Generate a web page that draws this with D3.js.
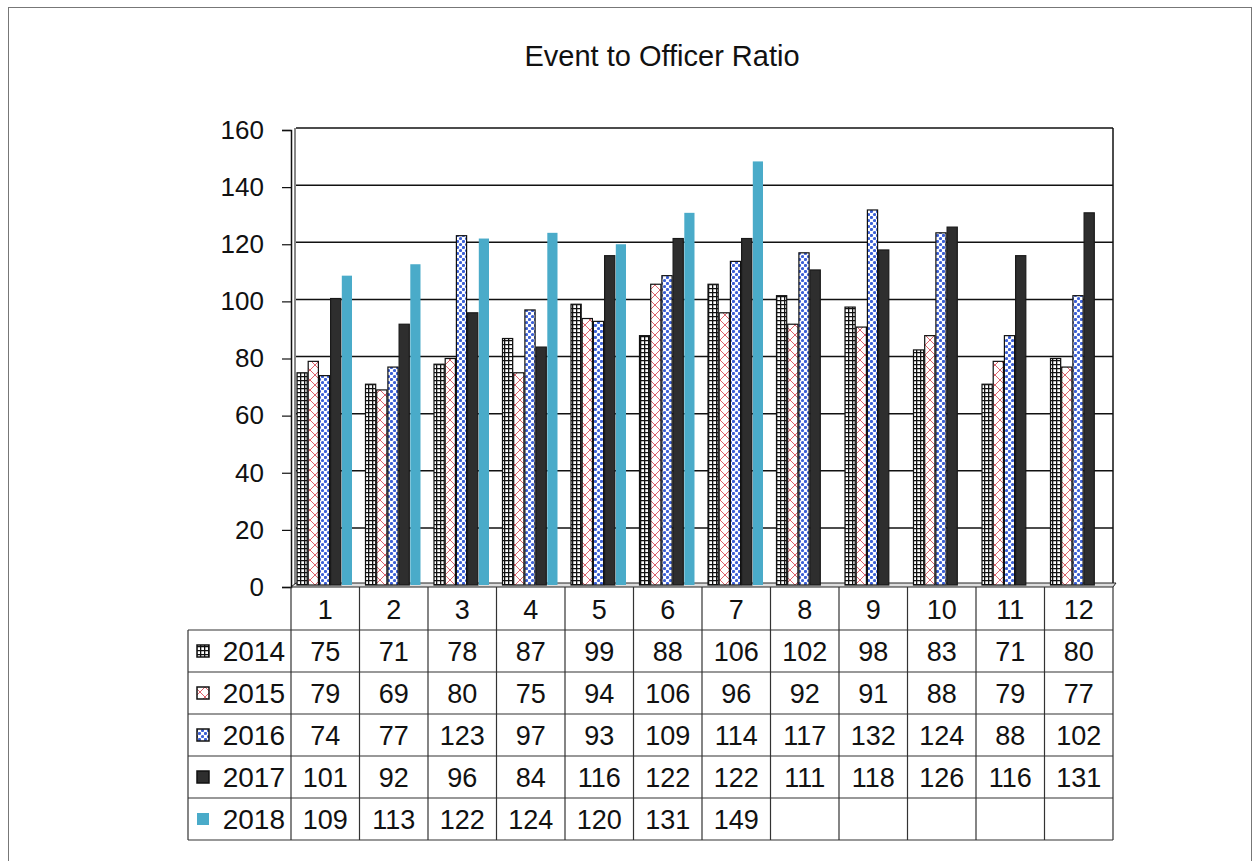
<!DOCTYPE html>
<html>
<head>
  <title>Event to Officer Ratio</title>
  <meta charset="utf8">
  <style type="text/css">
    body { margin: 0; background: #fff; font-family: "Liberation Sans", Arial, sans-serif; }
    text { fill: #111; }
  </style>
</head>
<body>

<script src="https://d3js.org/d3.v7.min.js"></script>

<script type="text/javascript">

var width = 1258, height = 861;

var months = ['1', '2', '3', '4', '5', '6', '7', '8', '9', '10', '11', '12'];
var years = ['2014', '2015', '2016', '2017', '2018'];
var v2014 = [75, 71, 78, 87, 99, 88, 106, 102, 98, 83, 71, 80];
var v2015 = [79, 69, 80, 75, 94, 106, 96, 92, 91, 88, 79, 77];
var v2016 = [74, 77, 123, 97, 93, 109, 114, 117, 132, 124, 88, 102];
var v2017 = [101, 92, 96, 84, 116, 122, 122, 111, 118, 126, 116, 131];
var v2018 = [109, 113, 122, 124, 120, 131, 149];
var yTicks = [0, 20, 40, 60, 80, 100, 120, 140, 160];

var values = [v2014, v2015, v2016, v2017, v2018];
var fills = ['url(#p2014)', 'url(#p2015)', 'url(#p2016)', '#2e2e2e', '#4aabc9'];
var strokes = ['#111', '#111', '#111', '#1a1a1a', 'none'];

var plotLeft = 291, plotRight = 1113, plotTop = 130, plotBottom = 587;
var rowH = 42, tableTop = 588, headW = 103;

var svg = d3.select('body').append('svg')
  .attr('width', width)
  .attr('height', height);

// patterns
var defs = svg.append('defs');
var p1 = defs.append('pattern').attr('id', 'p2014')
  .attr('patternUnits', 'userSpaceOnUse').attr('width', 4).attr('height', 4);
p1.append('rect').attr('width', 4).attr('height', 4).attr('fill', '#fff');
p1.append('path').attr('d', 'M0,0.6H4M0.6,0V4').attr('stroke', '#111').attr('stroke-width', 1.4);

var p2 = defs.append('pattern').attr('id', 'p2015')
  .attr('patternUnits', 'userSpaceOnUse').attr('width', 10).attr('height', 10);
p2.append('rect').attr('width', 10).attr('height', 10).attr('fill', '#fff');
p2.append('path').attr('d', 'M0,0L10,10M10,0L0,10').attr('stroke', '#d9505a').attr('stroke-width', 0.9);

var p3 = defs.append('pattern').attr('id', 'p2016')
  .attr('patternUnits', 'userSpaceOnUse').attr('width', 6).attr('height', 6);
p3.append('rect').attr('width', 6).attr('height', 6).attr('fill', '#fff');
p3.append('circle').attr('cx', 1.5).attr('cy', 1.5).attr('r', 1.6).attr('fill', '#3b5fd6');
p3.append('circle').attr('cx', 4.5).attr('cy', 4.5).attr('r', 1.6).attr('fill', '#3b5fd6');

// outer frame
svg.append('rect')
  .attr('x', 8.5).attr('y', 7.5)
  .attr('width', 1243).attr('height', 870)
  .attr('fill', 'none').attr('stroke', '#777').attr('stroke-width', 1);

svg.append('text')
  .attr('x', 662).attr('y', 66)
  .attr('text-anchor', 'middle')
  .style('font-size', '29px')
  .text('Event to Officer Ratio');

var x0 = d3.scaleBand().domain(months).range([plotLeft, plotRight]);
var x1 = d3.scaleBand().domain(years).range([6, 62]);
var y = d3.scaleLinear().domain([0, 160]).range([plotBottom, plotTop]);

// gridlines
var grid = svg.append('g');
grid.selectAll('line')
  .data(yTicks.filter(function(d) { return d > 0; }))
  .enter().append('line')
  .attr('x1', plotLeft + 5).attr('x2', plotRight)
  .attr('y1', function(d) { return y(d) - 2; })
  .attr('y2', function(d) { return y(d) - 2; })
  .attr('stroke', '#111').attr('stroke-width', 1.5);

// right border of plot
svg.append('line')
  .attr('x1', plotRight).attr('x2', plotRight)
  .attr('y1', y(160) - 2).attr('y2', plotBottom - 2)
  .attr('stroke', '#111').attr('stroke-width', 1.5);

// floor
svg.append('path')
  .attr('d', 'M' + plotLeft + ',' + plotBottom + 'L' + (plotLeft + 5) + ',' + (plotBottom - 4) +
    'L' + (plotRight + 3) + ',' + (plotBottom - 4) + 'L' + plotRight + ',' + plotBottom + 'Z')
  .attr('fill', '#ddd').attr('stroke', '#222').attr('stroke-width', 1);

// y axis with wall
var yAxis = d3.axisLeft(y).tickValues(yTicks).tickSize(9).tickPadding(18);
var ya = svg.append('g')
  .attr('transform', 'translate(' + plotLeft + ',0)')
  .call(yAxis);
ya.select('.domain').attr('stroke', '#111').attr('stroke-width', 1.5);
ya.selectAll('.tick line').attr('stroke', '#111').attr('stroke-width', 1.2);
ya.selectAll('.tick text')
  .style('font-size', '26px')
  .style('font-family', '"Liberation Sans", Arial, sans-serif')
  .attr('fill', '#111');
svg.append('line')
  .attr('x1', plotLeft + 4).attr('x2', plotLeft + 4)
  .attr('y1', y(160) - 2).attr('y2', plotBottom - 3)
  .attr('stroke', '#111').attr('stroke-width', 1);

// bars
var series = svg.selectAll('.series')
  .data(years)
  .enter().append('g')
  .attr('class', 'series');

series.selectAll('rect')
  .data(function(yr, si) {
    return values[si].map(function(v, i) { return { si: si, m: months[i], v: v }; });
  })
  .enter().append('rect')
  .attr('x', function(d) { return x0(d.m) + x1(years[d.si]); })
  .attr('y', function(d) { return y(d.v); })
  .attr('width', x1.bandwidth() - 1)
  .attr('height', function(d) { return plotBottom - 2 - y(d.v); })
  .attr('fill', function(d) { return fills[d.si]; })
  .attr('stroke', function(d) { return strokes[d.si]; })
  .attr('stroke-width', 1.2);

// data table
var table = svg.append('g').attr('class', 'table');
var cw = x0.bandwidth();
var tableBottom = tableTop + rowH * (years.length + 1);

// header row
table.selectAll('.hdr')
  .data(months)
  .enter().append('text')
  .attr('class', 'hdr')
  .attr('x', function(d) { return x0(d) + cw / 2; })
  .attr('y', tableTop + rowH / 2 + 10)
  .attr('text-anchor', 'middle')
  .style('font-size', '27px')
  .text(function(d) { return d; });

var lines = table.append('g')
  .attr('stroke', '#333').attr('stroke-width', 1.2);
// vertical lines
months.concat(['end']).forEach(function(m, i) {
  var xx = i < months.length ? x0(m) : plotRight;
  lines.append('line')
    .attr('x1', xx).attr('x2', xx)
    .attr('y1', plotBottom).attr('y2', tableBottom);
});
lines.append('line')
  .attr('x1', plotLeft - headW).attr('x2', plotLeft - headW)
  .attr('y1', tableTop + rowH).attr('y2', tableBottom);
// horizontal lines
d3.range(years.length + 1).forEach(function(r) {
  var yy = tableTop + rowH * (r + 1);
  lines.append('line')
    .attr('x1', plotLeft - headW).attr('x2', plotRight)
    .attr('y1', yy).attr('y2', yy);
});

var rows = table.selectAll('.row')
  .data(years)
  .enter().append('g')
  .attr('class', 'row')
  .attr('transform', function(d, i) { return 'translate(0,' + (tableTop + rowH * (i + 1)) + ')'; });

rows.append('rect')
  .attr('x', plotLeft - headW + 9)
  .attr('y', rowH / 2 - 6)
  .attr('width', 12).attr('height', 12)
  .attr('fill', function(d, i) { return fills[i]; })
  .attr('stroke', function(d, i) { return i < 4 ? '#111' : 'none'; })
  .attr('stroke-width', 1.5);

rows.append('text')
  .attr('x', plotLeft - 6)
  .attr('y', rowH / 2 + 10)
  .attr('text-anchor', 'end')
  .style('font-size', '28px')
  .text(function(d) { return d; });

rows.selectAll('.val')
  .data(function(yr, si) { return values[si].map(function(v, i) { return { m: months[i], v: v }; }); })
  .enter().append('text')
  .attr('class', 'val')
  .attr('x', function(d) { return x0(d.m) + cw / 2; })
  .attr('y', rowH / 2 + 10)
  .attr('text-anchor', 'middle')
  .style('font-size', '27px')
  .text(function(d) { return d.v; });

</script>

</body>
</html>
